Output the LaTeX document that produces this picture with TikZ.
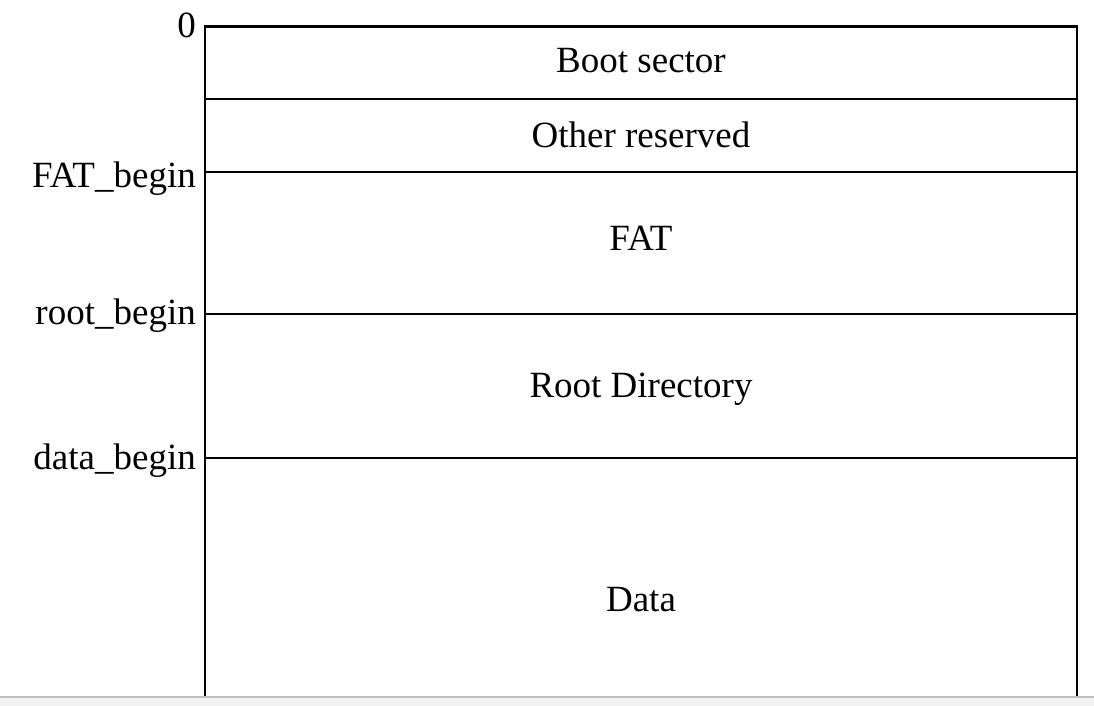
\documentclass[tikz,border=0pt]{standalone}
\usepackage{fontspec}
\setmainfont{Liberation Serif}
\usetikzlibrary{positioning}
\definecolor{barfill}{HTML}{F1F1F1}
\definecolor{barline}{HTML}{BDC1C5}

\begin{document}
\begin{tikzpicture}[x=1pt,y=-1pt,
    offset/.style={anchor=base east,inner sep=0pt,font=\fontsize{37}{44}\selectfont},
    region/.style={anchor=base,inner sep=0pt,font=\fontsize{37}{44}\selectfont}]
  \useasboundingbox (0,0) rectangle (1094,706);
  % outline of the layout
  \coordinate (topL) at (205,27);
  \coordinate (topR) at (1077,27);
  \coordinate (botL) at (205,697);
  \coordinate (botR) at (1077,697);
  \draw[line width=2pt] (botL) -- (topL);
  \draw[line width=2pt] (botR) -- (topR);
  \draw[line width=3pt] ([xshift=-1pt]topL) -- ([xshift=1pt]topR);
  \foreach \y/\name in {99/res,172/fat,314/root,458/data}{
    \coordinate (\name L) at (205,\y);
    \coordinate (\name R) at (1077,\y);
    \draw[line width=1.3pt] (\name L) -- (\name R);
  }
  % offsets on the left
  \node[offset] (zero) at (196,38) {0};
  \node[offset] (fatbegin) at (196,187) {FAT\_begin};
  \node[offset] (rootbegin) at (196,324) {root\_begin};
  \node[offset] (databegin) at (196,469) {data\_begin};
  % regions
  \node[region] (boot) at (641,73) {Boot sector};
  \node[region] (other) at (641,147) {Other reserved};
  \node[region] (fattab) at (641,250) {FAT};
  \node[region] (rootdir) at (641,397) {Root Directory};
  \node[region] (datareg) at (641,611) {Data};
  % window edge
  \fill[barfill] (0,697) rectangle (1094,706);
  \draw[barline,line width=2pt] (0,697) -- (1094,697);
\end{tikzpicture}
\end{document}
